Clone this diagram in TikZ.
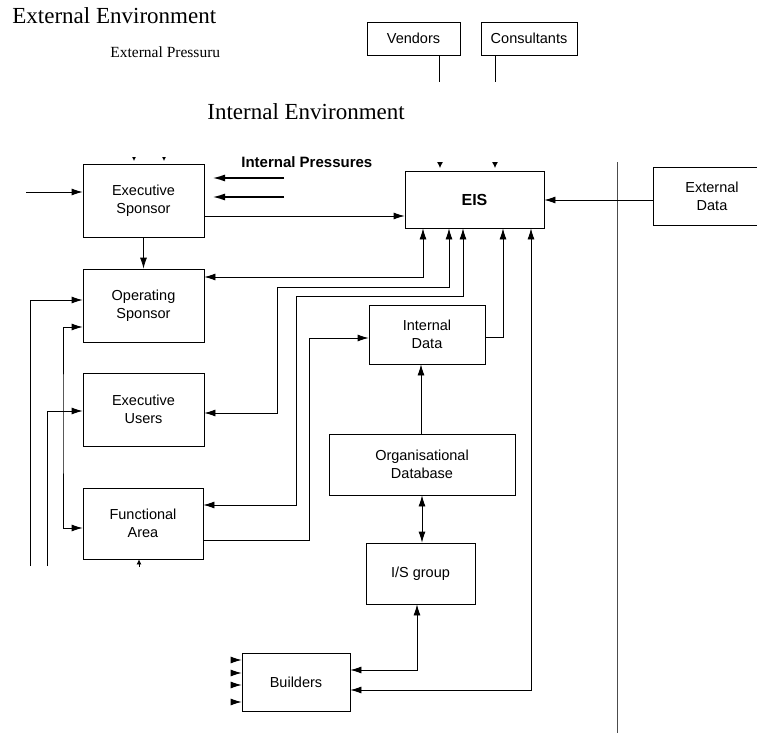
\documentclass[tikz,border=0pt]{standalone}
\usepackage{fontspec}
\setmainfont{Liberation Serif}
\setsansfont{Liberation Sans}
\usetikzlibrary{arrows.meta}

\tikzset{
  box/.style={draw, inner sep=0pt, align=center, font=\sffamily\fontsize{14.5}{18}\selectfont},
  bigtip/.style={-{Latex[length=13pt,width=7pt]}, line width=2pt},
  smalltip/.style={-{Latex[length=#1,width=#1]}},
}

\begin{document}
\begin{tikzpicture}[x=1pt, y=-1pt, line width=0.8pt, >={Latex[length=11pt,width=7pt]}]
\clip (0,0) rectangle (757,733);

\node[anchor=base west, font=\fontsize{23}{27}\selectfont, inner sep=0pt] (extenv) at (12,24) {External Environment};
\node[anchor=base west, font=\fontsize{15.5}{18}\selectfont, inner sep=0pt] (extpr) at (110,58) {External Pressuru};
\node[anchor=base west, font=\fontsize{23}{27}\selectfont, inner sep=0pt] (intenv) at (207,120) {Internal Environment};
\node[anchor=base west, font=\sffamily\bfseries\fontsize{15}{18}\selectfont, inner sep=0pt] (intpr) at (241,167) {Internal Pressures};

\node[box, minimum width=93, minimum height=33] (vend) at (413.5,38.5) {Vendors};
\node[box, minimum width=96, minimum height=33] (cons) at (529,38.5) {Consultants};

\node[box, minimum width=121, minimum height=73] (exsp) at (143.5,200.5) {Executive\\Sponsor};
\node[box, minimum width=121, minimum height=73] (opsp) at (143.5,305.5) {Operating\\Sponsor};
\node[box, minimum width=121, minimum height=73] (exus) at (143.5,409.5) {Executive\\Users};
\node[box, minimum width=120, minimum height=71] (func) at (143,523.5) {Functional\\Area};

\node[box, font=\sffamily\bfseries\fontsize{16}{20}\selectfont, minimum width=139, minimum height=57] (eis) at (474.5,199.5) {EIS};
\node[box, minimum width=118, minimum height=58] (extd) at (712,196) {External\\Data};
\node[box, minimum width=116, minimum height=59] (intd) at (427,334.5) {Internal\\Data};
\node[box, minimum width=186, minimum height=61] (orgdb) at (422,464.5) {Organisational\\Database};
\node[box, minimum width=109, minimum height=61] (isg) at (420.5,573.5) {I/S group};
\node[box, minimum width=108, minimum height=58] (build) at (296,682) {Builders};

\coordinate (inL) at (26,192);
\coordinate (pr1) at (284,178);
\coordinate (pr2) at (284,197);
\coordinate (leftA) at (30,566);
\coordinate (leftB) at (47,566);
\coordinate (vendE) at (439,82);
\coordinate (consE) at (495,82);
\coordinate (divT) at (617,162);
\coordinate (divB) at (617,733);

\draw[black!70, line width=0.7pt] (divT) -- (divB);
\draw (vend.south -| vendE) -- (vendE);
\draw (cons.south -| consE) -- (consE);

\draw[->] (inL) -- (inL -| exsp.west);
\draw[bigtip] (pr1) -- ++(-72,0);
\draw[bigtip] (pr2) -- ++(-72,0);
\draw[->] (exsp.east |- 0,216) -- (eis.west |- 0,216);
\draw[->] (exsp.south) -- (opsp.north);
\draw[->] (extd.west |- 0,200) -- (eis.east |- 0,200);

\draw[<->] (eis.south -| 423,0) |- (opsp.east |- 0,277);
\draw[<->] (eis.south -| 449,0) |- (277,287) |- (exus.east |- 0,413);
\draw[<->] (eis.south -| 463,0) |- (296,296) |- (func.east |- 0,505);
\draw[->] (func.east |- 0,540) -| (309,338) -- (intd.west |- 0,338);
\draw[->] (intd.east |- 0,337) -| (eis.south -| 503,0);
\draw[<->] (eis.south -| 531,0) |- (build.east |- 0,690);
\draw[->] (orgdb.north -| 421,0) -- (intd.south -| 421,0);
\draw[<->] (orgdb.south -| 422,0) -- (isg.north -| 422,0);
\draw[<->] (isg.south -| 417,0) |- (build.east |- 0,670);

\draw[->] (leftA) |- (opsp.west |- 0,300);
\draw[<->] (opsp.west |- 0,327) -| (63,420) |- (func.west |- 0,528);
\draw[->] (leftB) |- (exus.west |- 0,411);

\foreach \x in {134,164}
  \draw[smalltip=4pt] (\x,157) -- (\x,161);
\foreach \x in {440,495}
  \draw[smalltip=6pt] (\x,162) -- (\x,168);
\foreach \y in {660,673,685,702}
  \draw[->] (231,\y) -- (build.west |- 0,\y);
\draw[smalltip=5pt] (139,567) -- (func.south -| 139,0);
\end{tikzpicture}
\end{document}
